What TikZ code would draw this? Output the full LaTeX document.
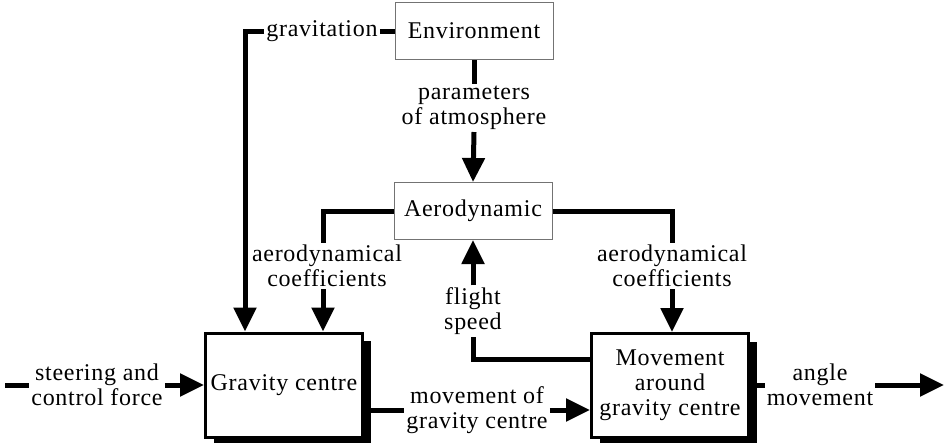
\documentclass[tikz,border=0pt]{standalone}
\usepackage{fontspec}
\setmainfont[LetterSpace=3]{Liberation Serif}
\usetikzlibrary{arrows.meta,calc}
\begin{document}
\begin{tikzpicture}[x=1pt,y=-1pt,
  txt/.style={font=\fontsize{24}{25}\selectfont, align=center, inner sep=2pt},
  thinbox/.style={txt, draw=black!55, line width=1pt, minimum width=158pt, minimum height=57pt},
  bigbox/.style={txt, draw=black, line width=3pt, fill=white, minimum width=157pt, minimum height=104pt},
  shadowbox/.style={fill=black, minimum width=157pt, minimum height=104pt, inner sep=0pt},
  conn/.style={line width=5pt},
  arr/.style={line width=5pt, -{Triangle[length=24pt,width=22pt]}}]
\useasboundingbox (0,0) rectangle (949,442);

% boxes
\node[thinbox] (env) at (474,31) {Environment};
\node[thinbox] (aero) at (473,211) {Aerodynamic};
\node[shadowbox] (gcs) at (292,393) {};
\node[bigbox] (gc) at (284,385) {Gravity centre};
\node[shadowbox] (mvs) at (678,393.5) {};
\node[bigbox] (mv) at (670,385.5) {Movement\\around\\gravity centre};

% labels
\node[txt] (grav) at (322,31) {gravitation};
\node[txt] (par) at (474,108) {parameters\\of atmosphere};
\node[txt] (adl) at (327,266) {aerodynamical\\coefficients};
\node[txt] (adr) at (672,266) {aerodynamical\\coefficients};
\node[txt] (fs) at (473,311) {flight\\speed};
\node[txt] (st) at (97,385) {steering and\\control force};
\node[txt] (mgc) at (477,410) {movement of\\gravity centre};
\node[txt] (am) at (820,385) {angle\\movement};
\coordinate (gl) at (245,31);
\coordinate (in) at (5,385);
\coordinate (out) at (944,385);

% connectors
\draw[conn] (grav.east) -- (env.west);
\draw[arr] (grav.west) -- (gl) -- (gl |- gc.north);
\draw[conn] (env.south) -- (par.north);
\draw[arr] (par.south) -- (aero.north);
\draw[conn] (aero.west) -| (adl.north -| 323,0);
\draw[arr] (adl.south -| 323,0) -- (323,0 |- gc.north);
\draw[conn] (aero.east) -| (adr.north);
\draw[arr] (adr.south) -- (adr.south |- mv.north);
\draw[conn] ([yshift=26pt]mv.west) -| (fs.south);
\draw[arr] (fs.north) -- (aero.south);
\draw[conn] (in) -- (st.west);
\draw[arr] (st.east) -- (gc.west);
\draw[conn] (gcs.east |- mgc.west) -- (mgc.west);
\draw[arr] (mgc.east) -- (mgc.east -| mv.west);
\draw[conn] (mvs.east |- am.west) -- (am.west);
\draw[arr] (am.east) -- (out);
\end{tikzpicture}
\end{document}
